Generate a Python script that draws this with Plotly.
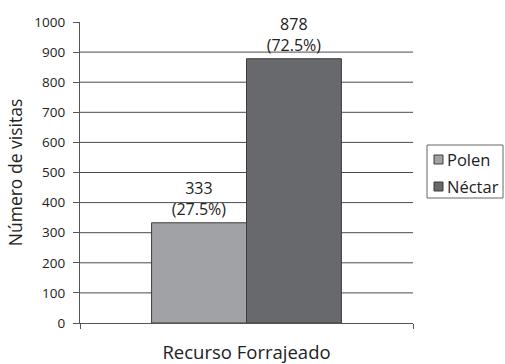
import plotly.graph_objects as go

categories = ["Recurso Forrajeado"]
series_names = ["Polen", "Néctar"]
values = [333, 878]
percent_labels = ["(27.5%)", "(72.5%)"]
colors = ["#a1a2a5", "#68696c"]
y_ticks = [0, 100, 200, 300, 400, 500, 600, 700, 800, 900, 1000]
grid_values = [100, 200, 300, 400, 500, 600, 700, 800, 900]

FONT = "Open Sans"
W, H = 505, 364
ML, MR, MT, MB = 80, 92, 22, 41
PW, PH = W - ML - MR, H - MT - MB


def px_x(x):
    return (x - ML) / PW


def px_y(y):
    return (H - MB - y) / PH


fig = go.Figure()
for name, v, pct, c in zip(series_names, values, percent_labels, colors):
    fig.add_trace(go.Bar(
        x=[0], y=[v], name=name,
        marker=dict(color=c, line=dict(color="#3c3c3c", width=1)),
        text=[f"{v}<br>{pct}"], textposition="outside",
        textfont=dict(size=16, color="#222", family=FONT),
        cliponaxis=False, showlegend=False,
    ))

for g in grid_values:
    fig.add_shape(type="line", xref="paper", yref="y", x0=0, x1=1, y0=g, y1=g,
                  line=dict(color="#4a4a4a", width=1), layer="below")

# legend (drawn manually to match the compact boxed legend)
fig.add_shape(type="rect", xref="paper", yref="paper",
              x0=px_x(427), x1=px_x(503), y0=px_y(198), y1=px_y(145),
              line=dict(color="#666", width=1), fillcolor="white")
row_centers = [159.5, 186.5]
for name, c, yc in zip(series_names, colors, row_centers):
    fig.add_shape(type="rect", xref="paper", yref="paper",
                  x0=px_x(434), x1=px_x(443), y0=px_y(yc + 4.5), y1=px_y(yc - 4.5),
                  line=dict(color="#3c3c3c", width=1), fillcolor=c)
    fig.add_annotation(xref="paper", yref="paper", x=px_x(445), y=px_y(yc),
                       xanchor="left", yanchor="middle", text=name, showarrow=False,
                       font=dict(size=16.5, family=FONT, color="#222"))

fig.update_layout(
    width=W, height=H,
    margin=dict(l=ML, r=MR, t=MT, b=MB, autoexpand=False),
    paper_bgcolor="white", plot_bgcolor="white",
    barmode="group", bargap=0.43, bargroupgap=0,
    font=dict(family=FONT, color="#222"),
    showlegend=False,
    xaxis=dict(range=[-0.5, 0.5], tickvals=[-0.5, 0.5], showticklabels=False,
               ticks="outside", ticklen=5, tickcolor="#555", showgrid=False,
               showline=True, linecolor="#555", linewidth=1.3, zeroline=False,
               title=dict(text=categories[0], font=dict(size=18.5, family=FONT), standoff=18)),
    yaxis=dict(range=[0, 1000], tickvals=y_ticks, ticks="outside", ticklen=6,
               tickcolor="#555", showgrid=False, showline=True, linecolor="#555",
               linewidth=1.3, zeroline=False, tickfont=dict(size=13.5, family=FONT),
               ticklabelstandoff=5,
               title=dict(text="Número de visitas", font=dict(size=17.5, family=FONT), standoff=7)),
)
fig.write_html("out.html")
